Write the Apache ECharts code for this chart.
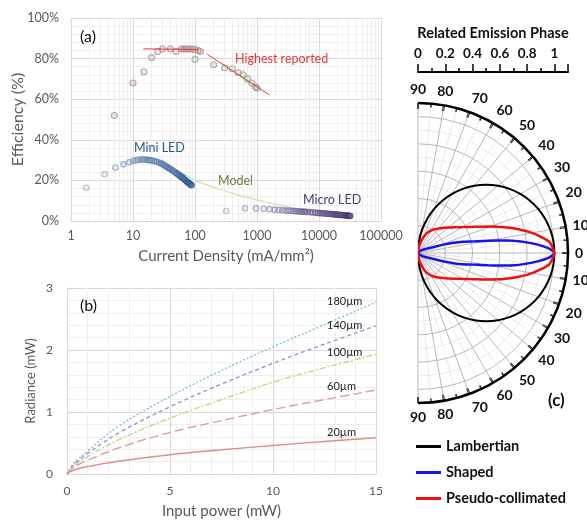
<!DOCTYPE html>
<html><head><meta charset="utf-8">
<script src="https://cdn.jsdelivr.net/npm/echarts@6/dist/echarts.min.js"></script>
<style>html,body{margin:0;padding:0;background:#fff}#c{width:587px;height:520px}</style>
</head><body><div id="c"></div>
<script>
// ---------- Panel (a): efficiency vs current density ----------
const logTicks = [1, 10, 100, 1000, 10000, 100000];
const highX = [5, 10, 15, 20, 25, 30, 40, 50, 60, 65, 70, 75, 80, 90, 100, 112, 122];
const highY = [52, 68, 73.5, 80.5, 83.5, 84.7, 84.7, 83.5, 84.7, 84.7, 84.7, 84.7, 84.7, 84.7, 84.5, 84, 83.5];
const greenX = [100, 200, 300, 400, 500, 600, 700, 820, 950, 1000];
const greenY = [79.6, 77, 75.5, 75, 73, 72, 70, 68, 66, 65.5];
const trend1X = [14.7, 115];
const trend1Y = [84.8, 84.5];
const trend2X = [158, 1585];
const trend2Y = [82.1, 62.1];
const miniX = [1.75, 3.5, 5.2, 7, 8.7, 10, 11, 12, 13, 14, 15, 16, 17, 18, 19, 20, 22, 24, 26, 28, 30, 32, 34, 36, 38, 40, 43, 46, 49, 52, 55, 58, 61, 64, 67, 70, 73, 76, 79, 82, 85, 88];
const miniY = [16.4, 23, 26.2, 27.9, 28.9, 29.7, 29.9, 30.1, 30.2, 30.3, 30.3, 30.2, 30.1, 30.0, 29.9, 29.8, 29.5, 29.2, 28.8, 28.4, 28.0, 27.5, 27.0, 26.5, 26.0, 25.6, 25.0, 24.4, 23.8, 23.2, 22.6, 22.1, 21.6, 21.1, 20.6, 20.1, 19.6, 19.1, 18.7, 18.3, 17.9, 17.6];
const microX = [320, 640, 960, 1280, 1600, 1920, 2240, 2560, 2880, 3200, 3520, 3840, 4160, 4480, 4800, 5120, 5440, 5760, 6080, 6400, 7200, 8000, 8800, 9600, 10400, 11200, 12000, 13000, 14000, 15000, 16000, 17000, 18000, 19000, 20000, 21500, 23000, 24500, 26000, 27500, 29000, 30500, 32000];
const microY = [4.9, 6.2, 6.2, 6.0, 5.8, 5.6, 5.45, 5.3, 5.2, 5.1, 5.0, 4.9, 4.85, 4.8, 4.7, 4.65, 4.6, 4.55, 4.5, 4.45, 4.35, 4.2, 4.1, 4.0, 3.9, 3.8, 3.75, 3.65, 3.55, 3.45, 3.4, 3.3, 3.25, 3.2, 3.1, 3.0, 2.95, 2.85, 2.8, 2.7, 2.65, 2.6, 2.5];
const modelX = [30, 40, 50, 60, 80, 100, 150, 200, 300, 500, 700, 1000, 1500, 2000, 3000, 5000, 7000, 10000, 20000, 32000];
const modelY = [28.2, 26.6, 25.1, 23.9, 21.7, 20, 18, 16.6, 14.9, 12.7, 11.6, 10.4, 9.1, 8.3, 7.0, 5.6, 4.9, 4.2, 3.2, 2.6];
const logMinor = [2,3,4,5,6,7,8,9,20,30,40,50,60,70,80,90,200,300,400,500,600,700,800,900,2000,3000,4000,5000,6000,7000,8000,9000,20000,30000,40000,50000,60000,70000,80000,90000];

// ---------- Panel (b): radiance vs input power ----------
const powerX = [0, 0.25, 0.5, 1, 2.5, 5, 7.5, 10, 12.5, 15];
const rad180 = [0, 0.14, 0.23, 0.37, 0.77, 1.25, 1.67, 2.05, 2.41, 2.77];
const rad140 = [0, 0.12, 0.2, 0.33, 0.66, 1.085, 1.45, 1.785, 2.095, 2.39];
const rad100 = [0, 0.1, 0.17, 0.28, 0.55, 0.9, 1.2, 1.48, 1.715, 1.93];
const rad60 = [0, 0.085, 0.14, 0.22, 0.42, 0.67, 0.86, 1.04, 1.2, 1.355];
const rad20 = [0, 0.05, 0.08, 0.12, 0.205, 0.31, 0.39, 0.46, 0.525, 0.585];
const sizeLabels = ['180µm', '140µm', '100µm', '60µm', '20µm'];

// ---------- Panel (c): polar emission patterns ----------
const angDeg = [0, 5, 10, 15, 20, 25, 30, 35, 40, 45, 50, 55, 60, 65, 70, 75, 80, 85, 90];
const lambR = [1, 0.9962, 0.9848, 0.9659, 0.9397, 0.9063, 0.866, 0.8192, 0.766, 0.7071, 0.6428, 0.5736, 0.5, 0.4226, 0.342, 0.2588, 0.1736, 0.0872, 0];
const pseudoR = [1.0, 0.965, 0.85, 0.71, 0.57, 0.455, 0.38, 0.33, 0.29, 0.26, 0.235, 0.212, 0.19, 0.165, 0.13, 0.09, 0.06, 0.03, 0];
const shapedAng = [0, 2, 4, 6, 8, 10, 12, 14, 16, 18, 20, 22, 25, 30, 35, 45, 60, 90];
const shapedR = [1.0, 0.96, 0.88, 0.78, 0.665, 0.52, 0.41, 0.34, 0.27, 0.205, 0.145, 0.105, 0.08, 0.055, 0.04, 0.02, 0.008, 0];
const minorRadii = [0.1, 0.3, 0.5, 0.7, 0.9];

const FONT = 'Lato, "Open Sans", sans-serif';
const GRAY = '#595959';

function hex2rgb(h){return [parseInt(h.substr(1,2),16),parseInt(h.substr(3,2),16),parseInt(h.substr(5,2),16)];}
function mix(a,b,t){const A=hex2rgb(a),B=hex2rgb(b);return A.map((v,i)=>Math.round(v+(B[i]-v)*t));}
function pts(xs, ys, c1, c2){
  const x0 = Math.log(xs[0]), x1 = Math.log(xs[xs.length-1]);
  return xs.map((x,i)=>{
    let t = c2 ? (Math.log(x)-x0)/(x1-x0) : 0;
    t = Math.pow(t, 1.4);
    const c = c2 ? mix(c1,c2,t) : hex2rgb(c1);
    return {value:[x, ys[i]], itemStyle:{color:'rgba('+c.join(',')+',0.25)', borderColor:'rgb('+c.join(',')+')', borderWidth:1.1}};
  });
}
function pairs(xs, ys){return xs.map((x,i)=>[x, ys[i]]);}
function mirror(angles, rs){
  const up = angles.map((a,i)=>[rs[i], -a]).reverse();
  const down = angles.slice(1).map((a,i)=>[rs[i+1], a]);
  return up.concat(down);
}
function arc(r){ const d = []; for (let a = -90; a <= 90; a += 2) d.push([r, a]); return d; }
function label(text, left, top, size, color, bold){
  return {type: 'text', left: left, top: top, z: 100,
    style: {text: text, fontSize: size, fill: color, fontFamily: FONT, fontWeight: bold ? 'bold' : 'normal'}};
}

const chart = echarts.init(document.getElementById('c'), null, {renderer:'canvas'});

const minorArcSeries = minorRadii.map(r => ({
  type: 'line', coordinateSystem: 'polar', data: arc(r), smooth: true, showSymbol: false, silent: true, z: 1,
  lineStyle: {color: '#cccccc', width: 0.8, type: 'dotted'}
}));

const option = {
  animation: false,
  textStyle: {fontFamily: FONT},
  grid: [
    {left: 71, top: 18, width: 310, height: 203, outerBoundsMode: 'none', containLabel: false},
    {left: 67, top: 288, width: 309, height: 186, outerBoundsMode: 'none', containLabel: false},
    {left: 418, top: 71, width: 150, height: 1, outerBoundsMode: 'none', containLabel: false}
  ],
  xAxis: [
    {gridIndex: 0, type: 'log', logBase: 10, min: 1, max: 100000,
     axisLine: {show: true, lineStyle: {color: '#d9d9d9'}}, axisTick: {show: false},
     axisLabel: {color: GRAY, fontSize: 12.5, margin: 8, fontFamily: FONT, formatter: v => String(Math.round(v))},
     splitLine: {show: true, lineStyle: {color: '#d9d9d9'}},
     name: 'Current Density (mA/mm²)', nameLocation: 'middle', nameGap: 28, nameMoveOverlap: false,
     nameTextStyle: {color: GRAY, fontSize: 15, fontFamily: FONT}},
    {gridIndex: 1, type: 'value', min: 0, max: 15, interval: 5,
     axisLine: {show: true, lineStyle: {color: '#d9d9d9'}}, axisTick: {show: false},
     axisLabel: {color: GRAY, fontSize: 12, margin: 11, fontFamily: FONT},
     splitLine: {show: true, lineStyle: {color: '#d9d9d9'}},
     minorTick: {show: false, splitNumber: 5},
     minorSplitLine: {show: true, lineStyle: {color: '#eeeeee'}},
     name: 'Input power (mW)', nameLocation: 'middle', nameGap: 30, nameMoveOverlap: false,
     nameTextStyle: {color: GRAY, fontSize: 15, fontFamily: FONT}},
    {gridIndex: 2, type: 'value', min: 0, max: 1.1, interval: 0.2, position: 'top',
     axisLine: {show: true, lineStyle: {color: '#000', width: 2}},
     axisTick: {show: true, length: 8, lineStyle: {color: '#000', width: 1.5}},
     minorTick: {show: true, splitNumber: 2, length: 4, lineStyle: {color: '#000', width: 1.5}},
     splitLine: {show: false},
     axisLabel: {color: '#111', fontSize: 13.5, fontWeight: 'bold', margin: 10, fontFamily: FONT,
       formatter: v => (Math.abs(v/0.2 - Math.round(v/0.2)) < 1e-6 && v <= 1.0001) ? String(+v.toFixed(1)) : ''},
     name: 'Related Emission Phase', nameLocation: 'middle', nameGap: 30, nameMoveOverlap: false,
     nameTextStyle: {color: '#111', fontSize: 14.5, fontWeight: 'bold', fontFamily: FONT}}
  ],
  yAxis: [
    {gridIndex: 0, type: 'value', min: 0, max: 100, interval: 20,
     axisLine: {show: false}, axisTick: {show: false},
     axisLabel: {color: GRAY, fontSize: 12.5, margin: 12, fontFamily: FONT, formatter: '{value}%'},
     splitLine: {show: true, lineStyle: {color: '#d9d9d9'}},
     minorTick: {show: false, splitNumber: 5},
     minorSplitLine: {show: true, lineStyle: {color: '#eeeeee'}},
     name: 'Efficiency (%)', nameLocation: 'middle', nameGap: 45, nameMoveOverlap: false,
     nameTextStyle: {color: GRAY, fontSize: 16, fontFamily: FONT}},
    {gridIndex: 1, type: 'value', min: 0, max: 3, interval: 1,
     axisLine: {show: true, lineStyle: {color: '#d9d9d9'}}, axisTick: {show: false},
     axisLabel: {color: GRAY, fontSize: 12, margin: 14, fontFamily: FONT},
     splitLine: {show: true, lineStyle: {color: '#d9d9d9'}},
     minorTick: {show: false, splitNumber: 5},
     minorSplitLine: {show: true, lineStyle: {color: '#eeeeee'}},
     name: 'Radiance (mW)', nameLocation: 'middle', nameGap: 30, nameMoveOverlap: false,
     nameTextStyle: {color: GRAY, fontSize: 13, fontFamily: FONT}},
    {gridIndex: 2, type: 'value', show: false}
  ],
  polar: {center: [418, 253], radius: 150},
  angleAxis: {type: 'value', min: -90, max: 90, interval: 10, startAngle: 90, endAngle: -90, clockwise: true,
    axisLine: {show: true, lineStyle: {color: '#000', width: 2.5}},
    axisTick: {show: true, inside: true, length: 6, lineStyle: {color: '#000', width: 2}},
    minorTick: {show: true, splitNumber: 2, length: 4, lineStyle: {color: '#000', width: 1.5}},
    axisLabel: {color: '#111', fontSize: 14, fontWeight: 'bold', margin: 7, fontFamily: FONT, formatter: v => String(Math.abs(v))},
    splitLine: {show: true, lineStyle: {color: '#a6a6a6', width: 0.8}},
    minorSplitLine: {show: true, lineStyle: {color: '#cccccc', width: 0.8, type: 'dotted'}}
  },
  radiusAxis: {type: 'value', min: 0, max: 1.1, interval: 0.2,
    axisLine: {show: false}, axisTick: {show: false}, axisLabel: {show: false},
    splitLine: {show: true, lineStyle: {color: '#a6a6a6', width: 0.8}},
    minorSplitLine: {show: false}
  },
  legend: {data: ['Lambertian', 'Shaped', 'Pseudo-collimated'], orient: 'vertical', left: 411, top: 434,
    itemWidth: 25, itemHeight: 3, itemGap: 11, icon: 'rect',
    textStyle: {color: '#111', fontSize: 14.5, fontWeight: 'bold', fontFamily: FONT}},
  series: [
    {type: 'line', xAxisIndex: 0, yAxisIndex: 0, data: [], silent: true, z: 1,
     markLine: {silent: true, symbol: 'none', label: {show: false}, z: 1,
       lineStyle: {color: '#eeeeee', type: 'solid', width: 1},
       data: logMinor.map(v => ({xAxis: v}))}},
    {type: 'line', name: 'Model', xAxisIndex: 0, yAxisIndex: 0, data: pairs(modelX, modelY), smooth: true, showSymbol: false,
     lineStyle: {color: '#d3e0b0', width: 1.3}, z: 2},
    {type: 'line', xAxisIndex: 0, yAxisIndex: 0, data: pairs(trend1X, trend1Y), showSymbol: false, lineStyle: {color: '#e03a3a', width: 1}, z: 4},
    {type: 'line', xAxisIndex: 0, yAxisIndex: 0, data: pairs(trend2X, trend2Y), showSymbol: false, lineStyle: {color: '#e03a3a', width: 1}, z: 4},
    {type: 'scatter', xAxisIndex: 0, yAxisIndex: 0, symbolSize: 6, data: pts(highX, highY, '#b08e8e'), z: 3},
    {type: 'scatter', xAxisIndex: 0, yAxisIndex: 0, symbolSize: 6, data: pts(greenX, greenY, '#93a38b'), z: 3},
    {type: 'scatter', xAxisIndex: 0, yAxisIndex: 0, symbolSize: 5.5, data: pts(miniX, miniY, '#a9b6cf', '#2c5a8c'), z: 3},
    {type: 'scatter', xAxisIndex: 0, yAxisIndex: 0, symbolSize: 5.5, data: pts(microX, microY, '#b3abc5', '#43306b'), z: 3},
    {type: 'line', xAxisIndex: 1, yAxisIndex: 1, data: pairs(powerX, rad180), smooth: 0.4, showSymbol: false, lineStyle: {color: '#7cc3dc', width: 1.4, type: [2, 2]}},
    {type: 'line', xAxisIndex: 1, yAxisIndex: 1, data: pairs(powerX, rad140), smooth: 0.4, showSymbol: false, lineStyle: {color: '#a690d0', width: 1.4, type: [4, 3]}},
    {type: 'line', xAxisIndex: 1, yAxisIndex: 1, data: pairs(powerX, rad100), smooth: 0.4, showSymbol: false, lineStyle: {color: '#c6d68c', width: 1.4, type: [6, 2, 2, 2]}},
    {type: 'line', xAxisIndex: 1, yAxisIndex: 1, data: pairs(powerX, rad60), smooth: 0.4, showSymbol: false, lineStyle: {color: '#e39c9c', width: 1.4, type: [9, 4]}},
    {type: 'line', xAxisIndex: 1, yAxisIndex: 1, data: pairs(powerX, rad20), smooth: 0.4, showSymbol: false, lineStyle: {color: '#e08c8c', width: 1.4}}
  ].concat(minorArcSeries).concat([
    {type: 'line', name: 'Lambertian', coordinateSystem: 'polar', data: mirror(angDeg, lambR), smooth: 0.3, showSymbol: false,
     itemStyle: {color: '#000'}, lineStyle: {color: '#000', width: 2}, z: 3},
    {type: 'line', name: 'Shaped', coordinateSystem: 'polar', data: mirror(shapedAng, shapedR), smooth: 0.2, showSymbol: false,
     itemStyle: {color: '#1414f0'}, lineStyle: {color: '#1414f0', width: 2.5}, z: 3},
    {type: 'line', name: 'Pseudo-collimated', coordinateSystem: 'polar', data: mirror(angDeg, pseudoR), smooth: 0.2, showSymbol: false,
     itemStyle: {color: '#f01010'}, lineStyle: {color: '#f01010', width: 2.5}, z: 3}
  ]),
  graphic: [
    label('(a)', 80, 29, 16, '#111'),
    label('(b)', 80, 298, 16, '#111'),
    label('(c)', 548, 392, 17, '#111', true),
    label('Highest reported', 235, 52, 12.5, '#e03a3a'),
    label('Mini LED', 134, 141, 12.5, '#2e5a8c'),
    label('Model', 218, 174, 12.5, '#6c7d3c'),
    label('Micro LED', 303, 193, 12.5, '#4b3a73'),
    label(sizeLabels[0], 327, 296, 11, '#222'),
    label(sizeLabels[1], 327, 320, 11, '#222'),
    label(sizeLabels[2], 327, 347, 11, '#222'),
    label(sizeLabels[3], 327, 381, 11, '#222'),
    label(sizeLabels[4], 327, 427, 11, '#222')
  ]
};
chart.setOption(option);
</script></body></html>
